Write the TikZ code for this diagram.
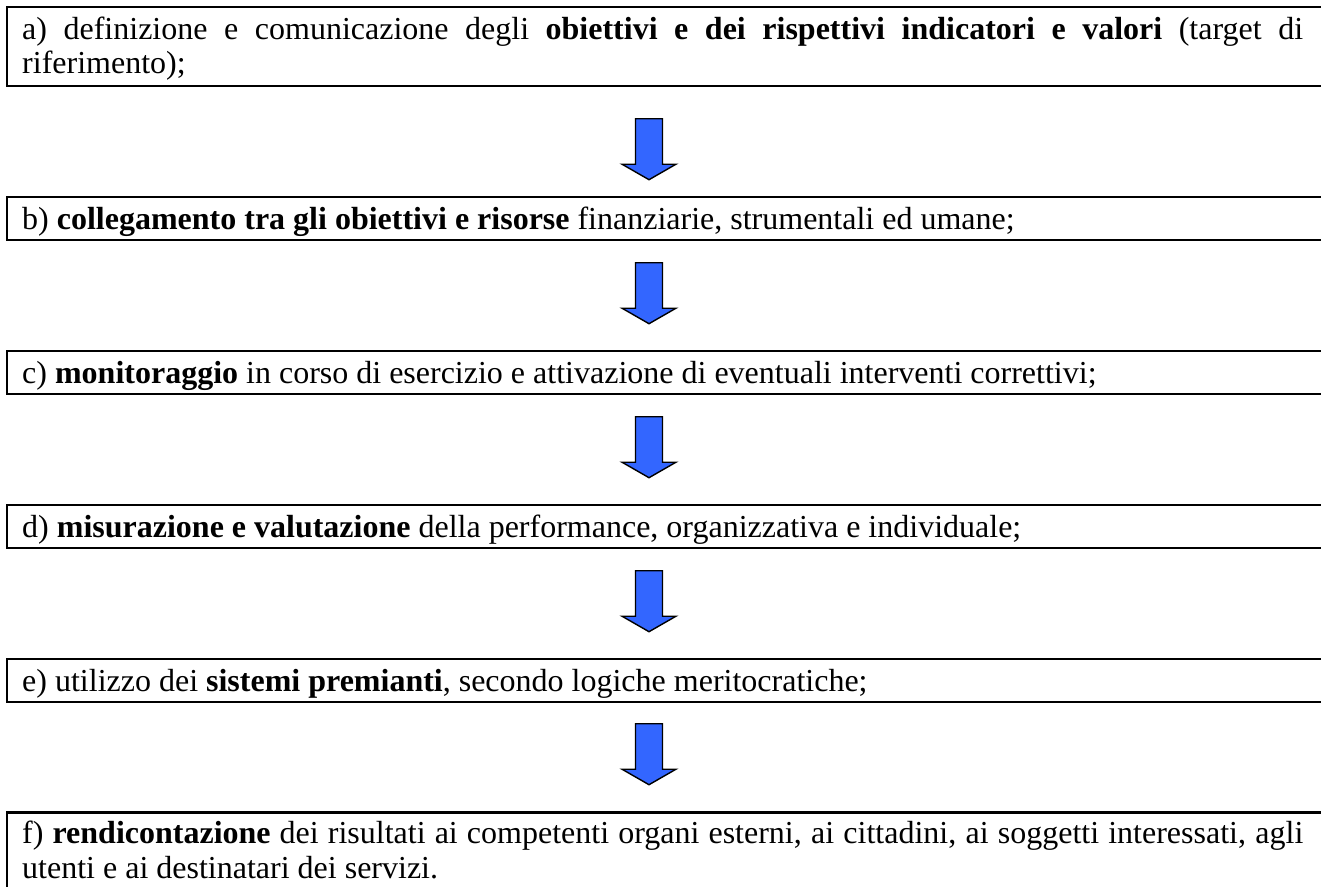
\documentclass[tikz,border=0pt]{standalone}
\usepackage{fontspec}
\setmainfont{Liberation Serif}
\definecolor{arrowblue}{RGB}{51,102,255}
\hyphenpenalty=10000
\exhyphenpenalty=10000
\newcommand\blockarr[1]{\draw[blockarrow] (#1) ++(-13.5,0) -- ++(27,0) -- ++(0,45.5) -- ++(13.5,0) -- ++(-27,15.5) -- ++(-27,-15.5) -- ++(13.5,0) -- cycle;}
\begin{document}
\begin{tikzpicture}[x=1pt,y=-1pt,
  frame/.style={draw, line width=2.3pt, anchor=north west, outer sep=0pt, inner sep=0pt, minimum width=1400pt},
  txt/.style={anchor=north west, inner sep=0pt, text width=1281pt, align=justify,
    font=\fontsize{32}{34.5}\selectfont},
  blockarrow/.style={draw=black, line width=1.4pt, fill=arrowblue, line join=miter}]
\useasboundingbox (0,0) rectangle (1321,886);
\clip (0,0) rectangle (1321,886);
% frames
\node[frame, minimum height=78.7pt] (fa) at (7.2,7) {};
\node[frame, minimum height=42.8pt] (fb) at (7.2,197) {};
\node[frame, minimum height=42.8pt] (fc) at (7.2,351) {};
\node[frame, minimum height=42.8pt] (fd) at (7.2,505) {};
\node[frame, minimum height=42.8pt] (fe) at (7.2,659) {};
\node[frame, minimum height=120pt] (ff) at (7.2,812.5) {};
% texts (north = baseline - strut height)
\node[txt] (ta) at (22,15) {\strut a) definizione e comunicazione degli \textbf{obiettivi e dei rispettivi indicatori e valori} (target di\linebreak riferimento);};
\node[txt] (tb) at (22,205) {\strut b) \textbf{collegamento tra gli obiettivi e risorse} finanziarie, strumentali ed umane;};
\node[txt] (tc) at (22,359) {\strut c) \textbf{monitoraggio} in corso di esercizio e attivazione di eventuali interventi correttivi;};
\node[txt] (td) at (22,513) {\strut d) \textbf{misurazione e valutazione} della performance, organizzativa e individuale;};
\node[txt] (te) at (22,667) {\strut e) utilizzo dei \textbf{sistemi premianti}, secondo logiche meritocratiche;};
\node[txt] (tf) at (22,819.5) {\strut f) \textbf{rendicontazione} dei risultati ai competenti organi esterni, ai cittadini, ai soggetti interessati, agli\linebreak utenti e ai destinatari dei servizi.};
% arrows
\coordinate (ar1) at (649,118.7);
\coordinate (ar2) at (649,262.7);
\coordinate (ar3) at (649,416.7);
\coordinate (ar4) at (649,570.7);
\coordinate (ar5) at (649,723.7);
\blockarr{ar1}
\blockarr{ar2}
\blockarr{ar3}
\blockarr{ar4}
\blockarr{ar5}
\end{tikzpicture}
\end{document}
